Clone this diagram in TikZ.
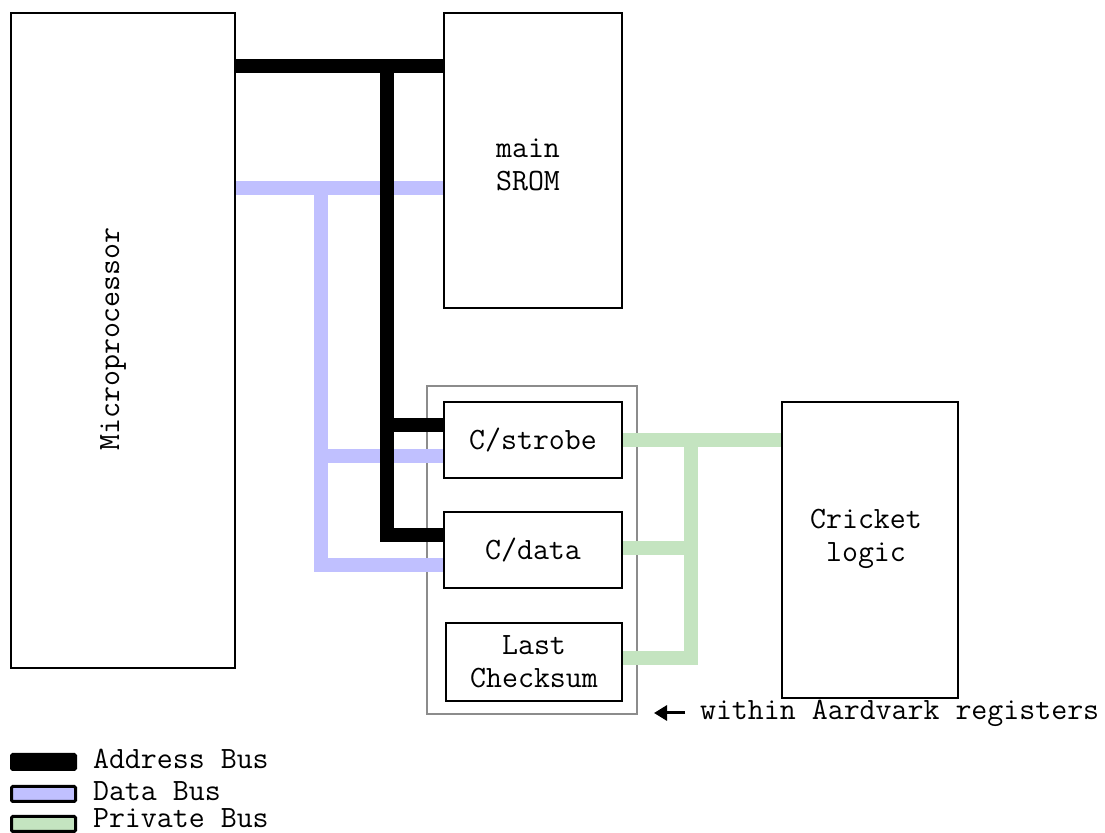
\documentclass[tikz,border=0pt]{standalone}
\usepackage{fontspec}
\usetikzlibrary{arrows.meta,positioning,backgrounds}
\definecolor{DataBlue}{RGB}{192,192,255}
\definecolor{PrivGreen}{RGB}{196,228,192}
\definecolor{GroupGray}{RGB}{140,140,140}
\pgfdeclarelayer{buslayer}
\pgfsetlayers{background,buslayer,main}

\begin{document}
\begin{tikzpicture}[x=0.5pt,y=-0.5pt,
 block/.style={draw, line width=1pt, fill=white, anchor=north west, align=center, inner sep=0pt},
 group/.style={draw=GroupGray, line width=1pt, anchor=north west, inner sep=0pt, minimum width=105pt, minimum height=164pt},
 addrbus/.style={line width=7pt, black},
 databus/.style={line width=7pt, DataBlue},
 privbus/.style={line width=7pt, PrivGreen},
 legbox/.style={draw, line width=1.5pt, rounded corners=0.6pt, anchor=north west, inner sep=0pt, minimum width=32pt, minimum height=7.5pt},
 legtxt/.style={right=4.5pt of #1, yshift=1.5pt, inner ysep=0.3pt},
 pointer/.style={-{Triangle[length=6.5pt,width=7.5pt]}, line width=1.5pt},
 font=\ttfamily\fontsize{15.5}{16.5}\selectfont
]
\useasboundingbox (0,0) rectangle (1105,833);

% blocks
\node[block, minimum width=112pt, minimum height=327.5pt] (cpu) at (10,12) {};
\node[rotate=90] (cputxt) at (113,339) {Microprocessor};
\node[block, minimum width=89pt, minimum height=147.5pt] (srom) at (443,12) {};
\node[align=center] (sromtxt) at (528,165) {main\\SROM};
\node[block, minimum width=89pt, minimum height=38pt] (strobe) at (443,401) {C/strobe};
\node[block, minimum width=89pt, minimum height=38pt] (cdata) at (443,511) {C/data};
\node[block, minimum width=88pt, minimum height=39pt] (lastck) at (445,622) {Last\\Checksum};
\node[block, minimum width=88pt, minimum height=148pt] (cricket) at (781,401) {};
\node[align=center] (crickettxt) at (866,539) {Cricket\\logic};

% register group
\begin{pgfonlayer}{background}
\node[group] (regs) at (426,385) {};
\end{pgfonlayer}
\node[anchor=west] (regtxt) at (693,713) {within Aardvark registers};
\draw[pointer] ([xshift=-4pt]regtxt.west) -- ([xshift=8pt]regs.east |- regtxt.west);

% bus junctions
\coordinate (a1) at (387,66);
\coordinate (a2) at (387,425);
\coordinate (a3) at (387,535);
\coordinate (d1) at (321,188);
\coordinate (d2) at (321,456);
\coordinate (d3) at (321,565);
\coordinate (p1) at (691,440);
\coordinate (p2) at (691,548);
\coordinate (p3) at (691,658);

\begin{pgfonlayer}{buslayer}
% data bus
\draw[databus] (cpu.east |- d1) -- (srom.west |- d1);
\draw[databus] (d1) -- (d3) -- (cdata.west |- d3);
\draw[databus] (d2) -- (strobe.west |- d2);
% address bus
\draw[addrbus] (cpu.east |- a1) -- (srom.west |- a1);
\draw[addrbus] (a1) -- (a3) -- (cdata.west |- a3);
\draw[addrbus] (a2) -- (strobe.west |- a2);
% private bus
\draw[privbus] (strobe.east |- p1) -- (cricket.west |- p1);
\draw[privbus] (p1) -- (p3) -- (lastck.east |- p3);
\draw[privbus] (p2) -- (cdata.east |- p2);
\end{pgfonlayer}

% legend
\node[legbox, fill=black] (legaddr) at (10,753) {};
\node[legbox, fill=DataBlue] (legdata) at (10,785) {};
\node[legbox, fill=PrivGreen] (legpriv) at (10,815) {};
\node[legtxt=legaddr] (legaddrtxt) {Address Bus};
\node[legtxt=legdata] (legdatatxt) {Data Bus};
\node[legtxt=legpriv, yshift=1.5pt] (legprivtxt) {Private Bus};
\end{tikzpicture}
\end{document}
